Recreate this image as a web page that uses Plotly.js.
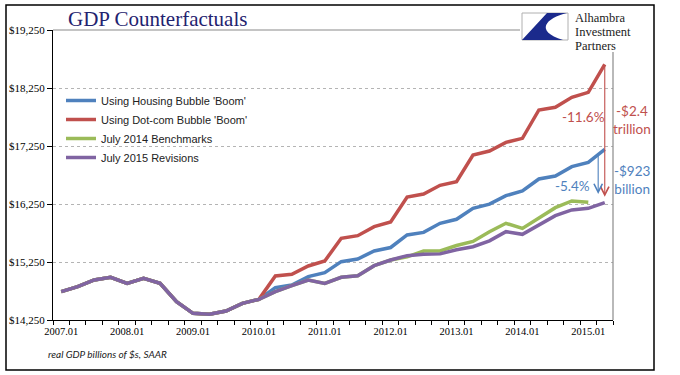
<!DOCTYPE html>
<html>
<head>
<meta charset="utf-8">
<script src="https://cdn.plot.ly/plotly-3.0.1.min.js"></script>
<style>
html,body{margin:0;padding:0;background:#fff;}
#chart{width:680px;height:375px;}
</style>
</head>
<body>
<div id="chart"></div>
<script>
// ---- data (quarterly, billions of chained $, SAAR) ----
const quarters = [
  "2007.01","2007.02","2007.03","2007.04",
  "2008.01","2008.02","2008.03","2008.04",
  "2009.01","2009.02","2009.03","2009.04",
  "2010.01","2010.02","2010.03","2010.04",
  "2011.01","2011.02","2011.03","2011.04",
  "2012.01","2012.02","2012.03","2012.04",
  "2013.01","2013.02","2013.03","2013.04",
  "2014.01","2014.02","2014.03","2014.04",
  "2015.01","2015.02"
];
const tickLabels = ["2007.01","2008.01","2009.01","2010.01","2011.01","2012.01","2013.01","2014.01","2015.01"];
const yTickValues = [14250,15250,16250,17250,18250,19250];

const housingBoom = [
  14739,14825,14940,14986,14882,14968,14882,14566,14365,14348,14405,14537,
  14606,14807,14853,14997,15066,15256,15302,15440,15500,15716,15761,15917,
  15986,16175,16247,16394,16474,16681,16733,16894,16968,17193
];
const dotcomBoom = [
  14739,14825,14940,14986,14882,14968,14882,14566,14365,14348,14405,14537,
  14606,15009,15037,15181,15267,15658,15704,15859,15940,16370,16421,16572,
  16635,17095,17164,17313,17382,17871,17917,18089,18175,18658
];
const july2014 = [
  14739,14825,14940,14986,14882,14968,14882,14566,14365,14348,14405,14537,
  14606,14739,14842,14940,14882,14986,15014,15187,15284,15340,15440,15440,
  15535,15605,15773,15917,15830,16003,16187,16302,16279
];
const july2015 = [
  14739,14825,14940,14986,14882,14968,14882,14566,14365,14348,14405,14537,
  14606,14739,14842,14940,14882,14986,15014,15187,15284,15359,15382,15390,
  15460,15514,15615,15773,15727,15888,16049,16147,16175,16273
];

const seriesNames = ["Using Housing Bubble 'Boom'","Using Dot-com Bubble 'Boom'","July 2014 Benchmarks","July 2015 Revisions"];
const seriesColors = ["#4F81BD","#C0504D","#9BBB59","#8064A2"];
const seriesData = [housingBoom, dotcomBoom, july2014, july2015];

// ---- geometry helpers (pixel -> paper) for decorations ----
const L = 53, R = 613, T = 30, B = 320;
const px = x => (x - L) / (R - L);
const py = y => (B - y) / (B - T);

const idx = quarters.map((q, i) => i);

const traces = seriesData.map((vals, k) => ({
  type: 'scatter',
  mode: 'lines',
  name: seriesNames[k],
  x: idx.slice(0, vals.length),
  y: vals,
  line: {color: seriesColors[k], width: 3.5},
  hoverinfo: 'skip'
}));

const tickvals = tickLabels.map(t => quarters.indexOf(t));
const boundaries = idx.map(i => i - 0.5).concat([idx.length - 0.5]);
const gridVals = yTickValues.slice(1, -1);

const last = idx.length - 1;
const redCol = "#C0504D", blueCol = "#4F81BD";
const blueArrowX = last - 0.4;
const blueArrowTop = housingBoom[last - 1] + 0.6 * (housingBoom[last] - housingBoom[last - 1]);

function swoosh() {
  const p = (x,y) => px(x).toFixed(5) + ',' + py(y).toFixed(5);
  return 'M' + p(547,13) + ' L' + p(567,13) +
         ' C' + p(546,18) + ' ' + p(534,31) + ' ' + p(563,40) +
         ' L' + p(522,40) + ' Z';
}

const logoFont = {family: 'Liberation Serif, serif', size: 12.5, color: '#222'};

const layout = {
  width: 680, height: 375,
  margin: {l: L, r: 680 - R, t: T, b: 375 - B, pad: 0},
  paper_bgcolor: '#ffffff', plot_bgcolor: '#ffffff',
  title: {
    text: 'GDP Counterfactuals',
    font: {family: 'Liberation Serif, serif', size: 21, color: '#1f2370'},
    xref: 'container', yref: 'container',
    x: 68/680, xanchor: 'left', y: 1 - 19/375, yanchor: 'middle'
  },
  showlegend: true,
  legend: {
    x: px(61), y: py(86), xanchor: 'left', yanchor: 'top',
    bgcolor: 'rgba(0,0,0,0)', borderwidth: 0,
    font: {family: 'Liberation Sans, Arial, sans-serif', size: 11, color: '#222'},
    itemwidth: 30, tracegroupgap: 0
  },
  xaxis: {
    range: [-0.5, idx.length - 0.5],
    tickmode: 'array', tickvals: tickvals, ticktext: tickLabels,
    ticks: 'outside', ticklen: 1, tickcolor: 'rgba(0,0,0,0)',
    showline: true, linecolor: '#000', linewidth: 1,
    showgrid: false, zeroline: false,
    tickfont: {family: 'Liberation Serif, serif', size: 10.5, color: '#000'},
    minor: {tickmode: 'array', tickvals: boundaries, ticks: 'outside', ticklen: 4, tickcolor: '#000', tickwidth: 1, showgrid: false},
    fixedrange: true
  },
  yaxis: {
    range: [yTickValues[0], yTickValues[yTickValues.length - 1]],
    tickmode: 'array', tickvals: yTickValues,
    ticktext: yTickValues.map(v => '$' + v.toLocaleString('en-US')),
    ticks: 'outside', ticklen: 5, tickcolor: '#000', tickwidth: 1,
    showline: true, linecolor: '#000', linewidth: 1,
    showgrid: false, zeroline: false,
    tickfont: {family: 'Liberation Serif, serif', size: 11, color: '#000'},
    minor: {tickmode: 'array', tickvals: gridVals, ticks: '', showgrid: true, gridcolor: '#b4b4b4', griddash: 'dot', gridwidth: 1},
    fixedrange: true
  },
  shapes: [
    {type: 'rect', xref: 'paper', yref: 'paper', x0: px(6), x1: px(654), y0: py(5), y1: py(370), line: {color: '#000', width: 1.5}},
    {type: 'line', xref: 'paper', yref: 'paper', x0: 0, x1: px(520), y0: 1, y1: 1, line: {color: '#8a8a8a', width: 1.2}},
    {type: 'line', xref: 'paper', yref: 'paper', x0: 1, x1: 1, y0: py(52), y1: 0, line: {color: '#8a8a8a', width: 1.2}},
    {type: 'rect', xref: 'paper', yref: 'paper', x0: px(522), x1: px(568), y0: py(13), y1: py(40), line: {color: '#b0b0b0', width: 1}, fillcolor: '#ffffff'},
    {type: 'path', xref: 'paper', yref: 'paper', path: swoosh(), fillcolor: '#1b2a8c', line: {width: 0}}
  ],
  annotations: [
    {xref: 'x', yref: 'y', axref: 'x', ayref: 'y', x: last, y: july2015[last] + 100, ax: last, ay: dotcomBoom[last],
     text: '', showarrow: true, arrowhead: 5, arrowsize: 1.5, arrowwidth: 1.1, arrowcolor: redCol, standoff: 0, startstandoff: 0},
    {xref: 'x', yref: 'y', axref: 'x', ayref: 'y', x: blueArrowX, y: july2015[last] + 150, ax: blueArrowX, ay: blueArrowTop,
     text: '', showarrow: true, arrowhead: 5, arrowsize: 1.5, arrowwidth: 1.1, arrowcolor: blueCol, standoff: 0, startstandoff: 0},
    {xref: 'paper', yref: 'paper', x: px(632), y: py(120), text: '-$2.4<br>trillion', showarrow: false,
     font: {family: 'Lato, sans-serif', size: 13.5, color: redCol}, xanchor: 'center', yanchor: 'middle'},
    {xref: 'paper', yref: 'paper', x: px(583), y: py(117), text: '-11.6%', showarrow: false,
     font: {family: 'Lato, sans-serif', size: 13.5, color: redCol}, xanchor: 'center', yanchor: 'middle'},
    {xref: 'paper', yref: 'paper', x: px(632), y: py(180), text: '-$923<br>billion', showarrow: false,
     font: {family: 'Lato, sans-serif', size: 13.5, color: blueCol}, xanchor: 'center', yanchor: 'middle'},
    {xref: 'paper', yref: 'paper', x: px(572), y: py(186), text: '-5.4%', showarrow: false,
     font: {family: 'Lato, sans-serif', size: 13.5, color: blueCol}, xanchor: 'center', yanchor: 'middle'},
    {xref: 'paper', yref: 'paper', x: px(46), y: py(354), text: '<i>real GDP billions of $s, SAAR</i>', showarrow: false,
     font: {family: 'Lato, sans-serif', size: 10, color: '#222'}, xanchor: 'left', yanchor: 'middle'},
    {xref: 'paper', yref: 'paper', x: px(573), y: py(17), text: 'Alhambra', showarrow: false,
     font: logoFont, xanchor: 'left', yanchor: 'middle', height: 13},
    {xref: 'paper', yref: 'paper', x: px(573), y: py(31), text: 'Investment', showarrow: false,
     font: logoFont, xanchor: 'left', yanchor: 'middle', height: 13},
    {xref: 'paper', yref: 'paper', x: px(573), y: py(45), text: 'Partners', showarrow: false,
     font: logoFont, xanchor: 'left', yanchor: 'middle', height: 13}
  ]
};

Plotly.newPlot('chart', traces, layout, {staticPlot: true, displayModeBar: false});
</script>
</body>
</html>
